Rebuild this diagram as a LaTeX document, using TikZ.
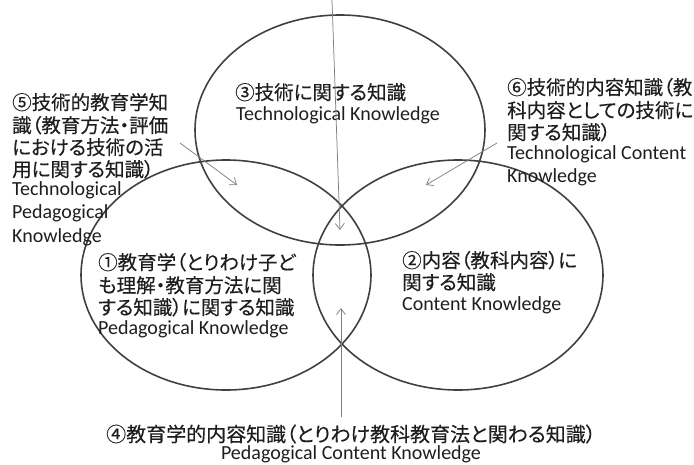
\documentclass[tikz,border=0pt]{standalone}
\usepackage{fontspec}
\setmainfont{Carlito}
\newfontfamily\jp[RawFeature=+palt,FakeBold=0.3]{Noto Sans CJK JP}
\usetikzlibrary{arrows.meta}
\definecolor{ringc}{RGB}{64,64,64}
\definecolor{arrc}{RGB}{128,128,128}
\definecolor{txtc}{RGB}{30,30,30}
\begin{document}
\begin{tikzpicture}[x=1pt,y=-1pt,
  ring/.style={draw=ringc,line width=1.6pt},
  ptr/.style={draw=arrc,line width=0.75pt,-{Straight Barb[length=6pt,width=9pt]}},
  jl/.style={anchor=base west,inner sep=0pt,text=txtc,font=\jp\fontsize{19.5}{22}\selectfont},
  el/.style={anchor=base west,inner sep=0pt,text=txtc,font=\fontsize{20}{22}\selectfont},
  jc/.style={jl,anchor=base},
  ec/.style={el,anchor=base}]
\useasboundingbox (0,0) rectangle (694,464);
% circles
\draw[ring] (340,130) ellipse [x radius=145pt, y radius=115pt];
\draw[ring] (226,275) ellipse [x radius=145pt, y radius=115pt];
\draw[ring] (458,275) ellipse [x radius=145pt, y radius=115pt];
% (3)
\node[jl] (t3a) at (235,99.6) {③技術に関する知識};
\node[el] (t3b) at (236,120) {Technological Knowledge};
% (5)
\node[jl] (t5a) at (12,109.6) {⑤技術的教育学知};
\node[jl] (t5b) at (12,132.6) {識（教育方法・評価};
\node[jl] (t5c) at (12,154.6) {における技術の活};
\node[jl] (t5d) at (12,176.6) {用に関する知識）};
\node[el] (t5e) at (12,195) {Technological};
\node[el] (t5f) at (12,218) {Pedagogical};
\node[el] (t5g) at (12,242) {Knowledge};
% (6)
\node[jl] (t6a) at (507,94.6) {⑥技術的内容知識（教};
\node[jl] (t6b) at (507,117.6) {科内容としての技術に};
\node[jl] (t6c) at (507,139.6) {関する知識）};
\node[el] (t6d) at (507,159) {Technological Content};
\node[el] (t6e) at (507,182) {Knowledge};
% (1)
\node[jl] (t1a) at (98,269.6) {①教育学（とりわけ子ど};
\node[jl] (t1b) at (98,292.6) {も理解・教育方法に関};
\node[jl] (t1c) at (98,314.6) {する知識）に関する知識};
\node[el] (t1d) at (98,334) {Pedagogical Knowledge};
% (2)
\node[jl] (t2a) at (402,267.6) {②内容（教科内容）に};
\node[jl] (t2b) at (402,289.6) {関する知識};
\node[el] (t2c) at (402,310) {Content Knowledge};
% (4)
\node[jc,font=\jp\fontsize{20}{22}\selectfont] (t4a) at (351,441.6) {④教育学的内容知識（とりわけ教科教育法と関わる知識）};
\node[ec] (t4b) at (351,459.5) {Pedagogical Content Knowledge};
% arrows
\coordinate (p3s) at (332,0);
\coordinate (p3e) at (340,230);
\coordinate (p5s) at (180,143);
\coordinate (p5e) at (237,185);
\coordinate (p6s) at (497,143);
\coordinate (p6e) at (426,185);
\coordinate (p4s) at (341,417);
\coordinate (p4e) at (341,308);
\draw[ptr] (p3s) -- (p3e);
\draw[ptr] (p5s) -- (p5e);
\draw[ptr] (p6s) -- (p6e);
\draw[ptr] (p4s) -- (p4e);
\end{tikzpicture}
\end{document}
